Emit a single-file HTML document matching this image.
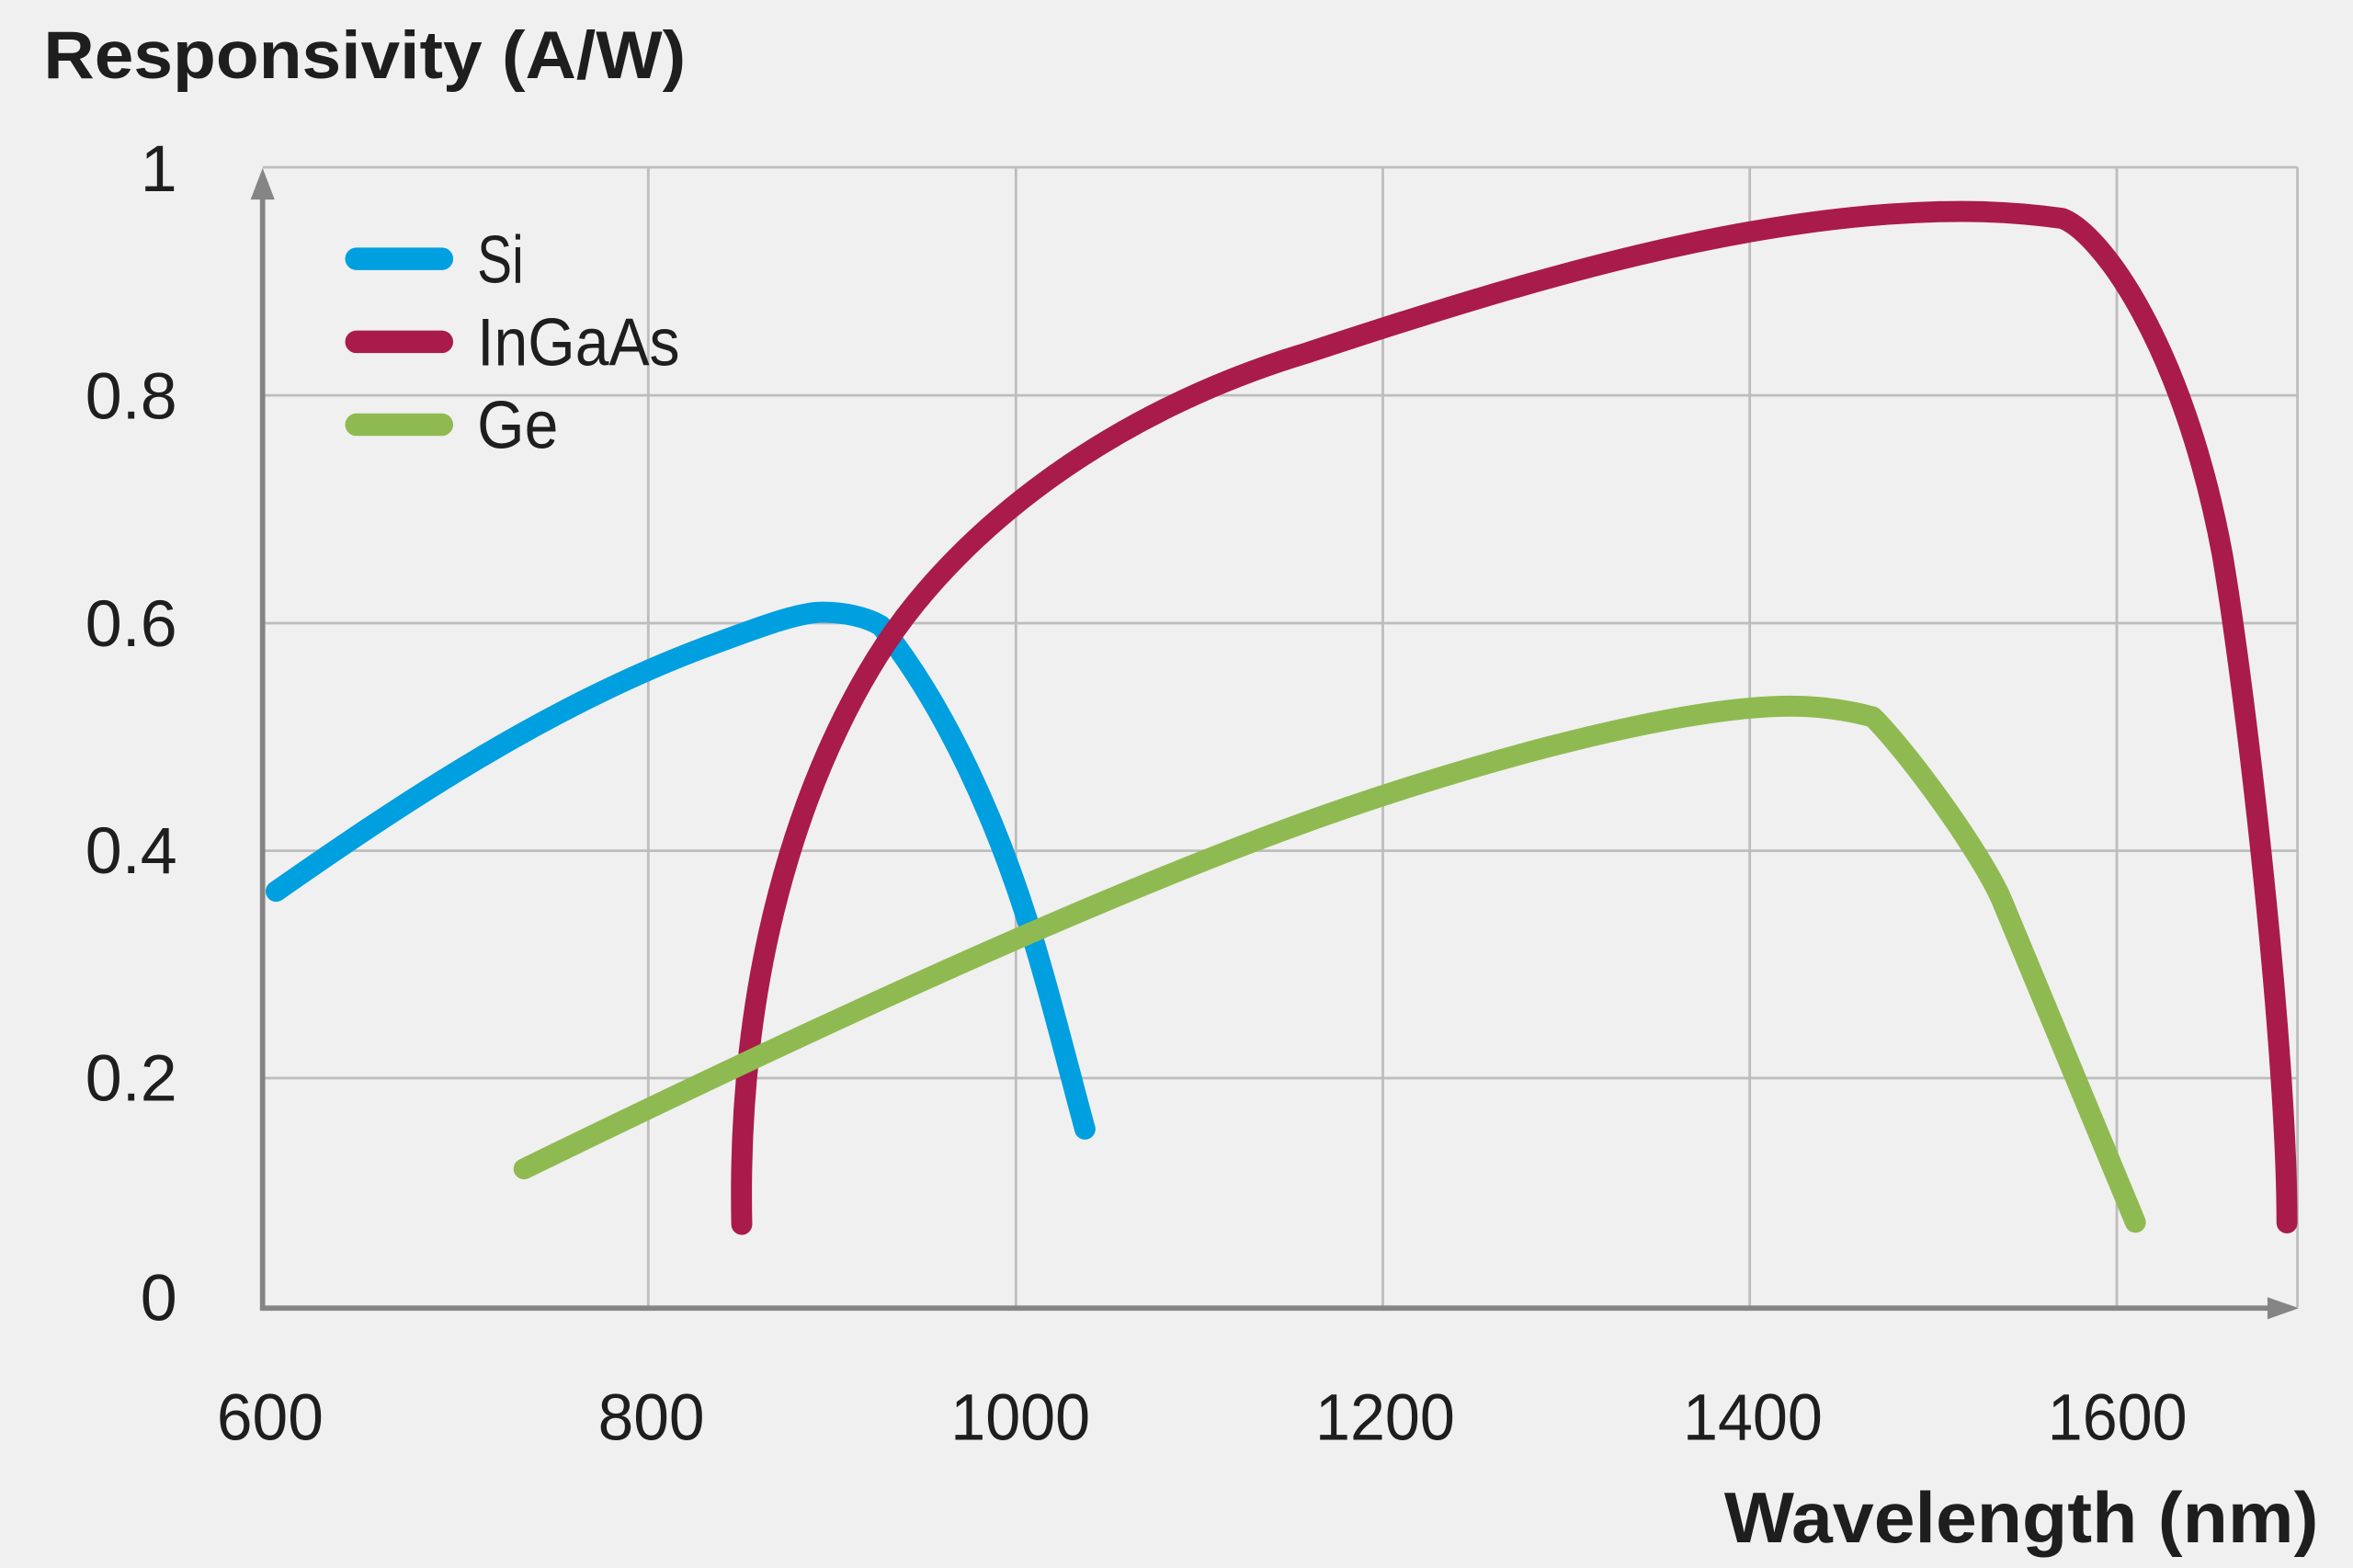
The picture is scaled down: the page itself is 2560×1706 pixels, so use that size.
<!DOCTYPE html>
<html>
<head>
<meta charset="utf-8">
<style>
  html,body{margin:0;padding:0;background:#f0f0f0;}
  svg{display:block;}
  text{font-family:"Liberation Sans",sans-serif;fill:#1e1e1e;}
</style>
</head>
<body>
<svg width="2560" height="1706" viewBox="0 0 1568 1045" preserveAspectRatio="none" xmlns="http://www.w3.org/2000/svg">
  <rect x="0" y="0" width="1568" height="1045" fill="#f0f0f0"/>

  <!-- Title -->
  <text x="29" y="52" font-size="45" font-weight="bold" textLength="428" lengthAdjust="spacingAndGlyphs">Responsivity (A/W)</text>

  <!-- Gridlines -->
  <g stroke="#bdbdbd" stroke-width="1.7" fill="none">
    <line x1="175" y1="111.5" x2="1531" y2="111.5"/>
    <line x1="175" y1="263.5" x2="1531" y2="263.5"/>
    <line x1="175" y1="415.3" x2="1531" y2="415.3"/>
    <line x1="175" y1="567" x2="1531" y2="567"/>
    <line x1="175" y1="718.5" x2="1531" y2="718.5"/>
    <line x1="432" y1="111.5" x2="432" y2="871"/>
    <line x1="677" y1="111.5" x2="677" y2="871"/>
    <line x1="921.5" y1="111.5" x2="921.5" y2="871"/>
    <line x1="1166" y1="111.5" x2="1166" y2="871"/>
    <line x1="1410.6" y1="111.5" x2="1410.6" y2="871"/>
    <line x1="1531" y1="111.5" x2="1531" y2="871"/>
  </g>

  <!-- Axes -->
  <g stroke="#858585" stroke-width="3.5" fill="none">
    <line x1="175" y1="873.5" x2="175" y2="128"/>
    <line x1="173.3" y1="871.8" x2="1515" y2="871.8"/>
  </g>
  <polygon points="175,112 167,133 183,133" fill="#858585"/>
  <polygon points="1532,871.8 1511,864.5 1511,879.2" fill="#858585"/>

  <!-- Y tick labels -->
  <g font-size="44" text-anchor="end">
    <text x="118" y="127.5">1</text>
    <text x="118" y="279">0.8</text>
    <text x="118" y="430.5">0.6</text>
    <text x="118" y="582">0.4</text>
    <text x="118" y="733.5">0.2</text>
    <text x="118" y="880">0</text>
  </g>

  <!-- X tick labels -->
  <g font-size="44" text-anchor="middle">
    <text x="180" y="959.5" textLength="71" lengthAdjust="spacingAndGlyphs">600</text>
    <text x="434" y="959.5" textLength="71" lengthAdjust="spacingAndGlyphs">800</text>
    <text x="680" y="959.5" textLength="93" lengthAdjust="spacingAndGlyphs">1000</text>
    <text x="923" y="959.5" textLength="93" lengthAdjust="spacingAndGlyphs">1200</text>
    <text x="1168" y="959.5" textLength="93" lengthAdjust="spacingAndGlyphs">1400</text>
    <text x="1411" y="959.5" textLength="93" lengthAdjust="spacingAndGlyphs">1600</text>
  </g>

  <!-- X axis title -->
  <text x="1149" y="1028" font-size="48" font-weight="bold" textLength="396" lengthAdjust="spacingAndGlyphs">Wavelength (nm)</text>

  <!-- Legend -->
  <g stroke-width="15" stroke-linecap="round" fill="none">
    <line x1="237.5" y1="172.5" x2="294.5" y2="172.5" stroke="#009fe0"/>
    <line x1="237.5" y1="227.8" x2="294.5" y2="227.8" stroke="#a91b4b"/>
    <line x1="237.5" y1="283" x2="294.5" y2="283" stroke="#8fba51"/>
  </g>
  <g font-size="45">
    <text x="318" y="188.5" textLength="31" lengthAdjust="spacingAndGlyphs">Si</text>
    <text x="318" y="243.5" textLength="135" lengthAdjust="spacingAndGlyphs">InGaAs</text>
    <text x="318" y="298.5" textLength="54" lengthAdjust="spacingAndGlyphs">Ge</text>
  </g>

  <!-- Series -->
  <g fill="none" stroke-width="14" stroke-linecap="round" stroke-linejoin="round">
    <!-- Si -->
    <path stroke="#009fe0" d="M184,594 C274.1,531 369.1,468.6 472.3,430.4 C505.1,418.3 532,408 548,408 C562,408 577,411 587,417 C631.8,473.2 664.6,549.4 685.5,616.2 C698.9,659.1 711.2,709 723,752.5"/>
    <!-- InGaAs -->
    <path stroke="#a91b4b" d="M494.3,816 C490,616 551.6,487 590.5,428.7 C640.5,353.8 737.4,275.2 871.5,235 C1014,188 1167.6,140.9 1307.6,140.9 C1330,140.9 1352,142.5 1374,145.5 C1400,155 1455,230 1481,370 C1497,465 1524,700 1524,815"/>
    <!-- Ge -->
    <path stroke="#8fba51" d="M349.2,779 C502,704.5 698,611.5 857.5,552.5 C960.7,514.3 1113,470.6 1193,470.6 C1215,470.6 1232,473.5 1248,477.8 C1272.7,502.7 1320,568 1334,600 L1423,814.6"/>
  </g>
</svg>
</body>
</html>
